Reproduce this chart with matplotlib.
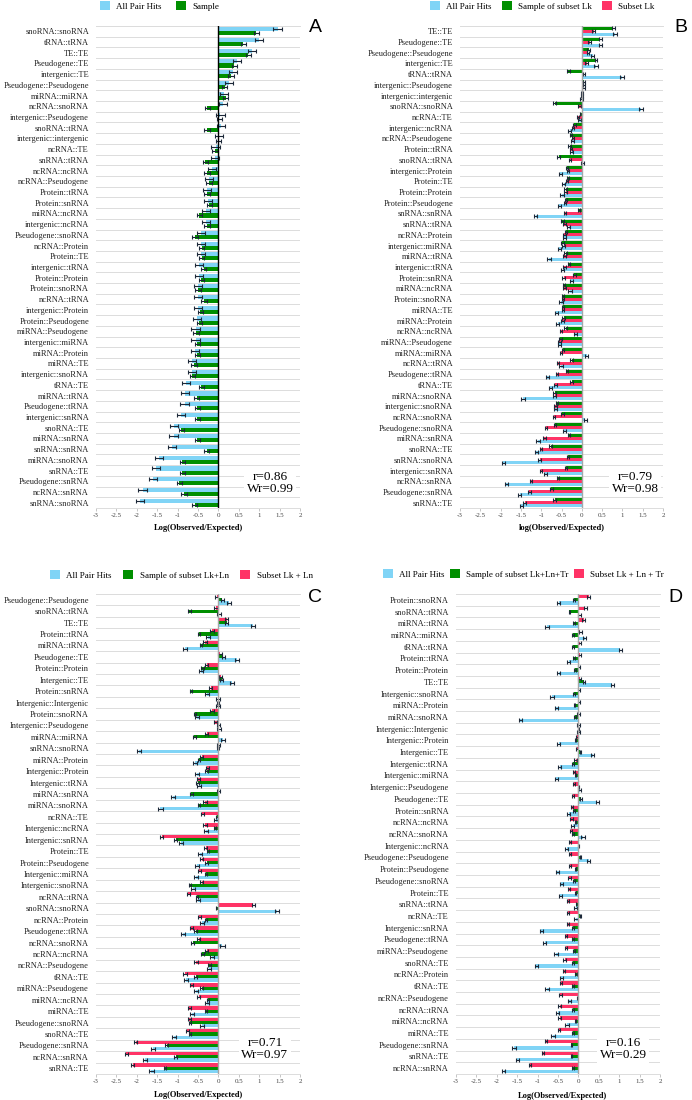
import numpy as np
import matplotlib
matplotlib.use("Agg")
import matplotlib.pyplot as plt
from matplotlib.patches import Patch

plt.rcParams['font.family'] = ['Liberation Serif', 'DejaVu Serif']

BLUE = '#80d4f6'
GREEN = '#008f00'
RED = '#ff3366'
ERR = '#1c2838'

# ---- panel A: all pair hits vs sample
cats_a = ["snoRNA::snoRNA", "tRNA::tRNA", "TE::TE", "Pseudogene::TE", "intergenic::TE",
          "Pseudogene::Pseudogene", "miRNA::miRNA", "ncRNA::snoRNA", "intergenic::Pseudogene",
          "snoRNA::tRNA", "intergenic::intergenic", "ncRNA::TE", "snRNA::tRNA", "ncRNA::ncRNA",
          "ncRNA::Pseudogene", "Protein::tRNA", "Protein::snRNA", "miRNA::ncRNA",
          "intergenic::ncRNA", "Pseudogene::snoRNA", "ncRNA::Protein", "Protein::TE",
          "intergenic::tRNA", "Protein::Protein", "Protein::snoRNA", "ncRNA::tRNA",
          "intergenic::Protein", "Protein::Pseudogene", "miRNA::Pseudogene", "intergenic::miRNA",
          "miRNA::Protein", "miRNA::TE", "intergenic::snoRNA", "tRNA::TE", "miRNA::tRNA",
          "Pseudogene::tRNA", "intergenic::snRNA", "snoRNA::TE", "miRNA::snRNA", "snRNA::snRNA",
          "miRNA::snoRNA", "snRNA::TE", "Pseudogene::snRNA", "ncRNA::snRNA", "snRNA::snoRNA"]
all_hits_a = [1.45, 1.0, 0.82, 0.46, 0.36, 0.27, 0.13, 0.11, 0.05, 0.07, 0.01, -0.07, -0.09,
              -0.15, -0.23, -0.27, -0.26, -0.30, -0.30, -0.42, -0.43, -0.42, -0.47, -0.48, -0.50,
              -0.50, -0.50, -0.53, -0.56, -0.56, -0.58, -0.64, -0.65, -0.80, -0.81, -0.83, -0.92,
              -1.09, -1.10, -1.13, -1.45, -1.53, -1.60, -1.86, -1.93]
sample_a = [0.93, 0.61, 0.73, 0.39, 0.31, 0.15, 0.18, -0.27, 0.02, -0.28, 0.0, -0.08, -0.32,
            -0.28, -0.23, -0.28, -0.22, -0.47, -0.28, -0.57, -0.41, -0.41, -0.36, -0.42, -0.50,
            -0.35, -0.44, -0.47, -0.55, -0.52, -0.52, -0.60, -0.64, -0.42, -0.53, -0.52, -0.52,
            -0.91, -0.52, -0.29, -0.88, -0.88, -0.96, -0.84, -0.58]
err_a = {"all": 0.10, "sample": 0.065}

# ---- panel B: subset Lk
cats_b = ["TE::TE", "Pseudogene::TE", "Pseudogene::Pseudogene", "intergenic::TE", "tRNA::tRNA",
          "intergenic::Pseudogene", "intergenic::intergenic", "snoRNA::snoRNA", "ncRNA::TE",
          "intergenic::ncRNA", "ncRNA::Pseudogene", "Protein::tRNA", "snoRNA::tRNA",
          "intergenic::Protein", "Protein::TE", "Protein::Protein", "Protein::Pseudogene",
          "snRNA::snRNA", "snRNA::tRNA", "ncRNA::Protein", "intergenic::miRNA", "miRNA::tRNA",
          "intergenic::tRNA", "Protein::snRNA", "miRNA::ncRNA", "Protein::snoRNA", "miRNA::TE",
          "miRNA::Protein", "ncRNA::ncRNA", "miRNA::Pseudogene", "miRNA::miRNA", "ncRNA::tRNA",
          "Pseudogene::tRNA", "tRNA::TE", "miRNA::snoRNA", "intergenic::snoRNA", "ncRNA::snoRNA",
          "Pseudogene::snoRNA", "miRNA::snRNA", "snoRNA::TE", "snRNA::snoRNA",
          "intergenic::snRNA", "ncRNA::snRNA", "Pseudogene::snRNA", "snRNA::TE"]
sample_b = [0.78, 0.46, 0.17, 0.35, -0.33, 0.06, 0.0, -0.67, -0.02, -0.18, -0.26, -0.30, -0.57,
            -0.36, -0.34, -0.40, -0.39, -0.07, -0.48, -0.39, -0.48, -0.40, -0.32, -0.18, -0.44,
            -0.47, -0.47, -0.45, -0.40, -0.53, -0.47, -0.25, -0.36, -0.25, -0.67, -0.61, -0.48,
            -0.66, -0.32, -0.77, -0.34, -0.39, -0.59, -0.75, -0.67]
subset_b = [0.29, 0.19, 0.15, 0.12, 0.06, 0.05, 0.0, -0.06, -0.09, -0.22, -0.22, -0.26, -0.29,
            -0.34, -0.37, -0.40, -0.41, -0.41, -0.43, -0.43, -0.45, -0.43, -0.43, -0.45, -0.43,
            -0.47, -0.47, -0.48, -0.51, -0.55, -0.51, -0.59, -0.61, -0.65, -0.67, -0.65, -0.69,
            -0.88, -0.92, -1.00, -1.04, -1.00, -1.25, -1.29, -1.41]
all_hits_b = [0.82, 0.46, 0.27, 0.35, 0.99, 0.04, 0.0, 1.46, -0.06, -0.30, -0.22, -0.25, 0.02,
              -0.53, -0.45, -0.49, -0.55, -1.14, -0.32, -0.43, -0.55, -0.81, -0.47, -0.26, -0.29,
              -0.51, -0.63, -0.59, -0.16, -0.55, 0.12, -0.51, -0.85, -0.78, -1.45, -0.65, 0.09,
              -0.43, -1.08, -1.12, -1.93, -0.90, -1.86, -1.53, -1.49]
err_b = {"all": 0.04, "sample": 0.03, "subset": 0.03}

# ---- panel C: subset Lk + Ln
cats_c = ["Pseudogene::Pseudogene", "snoRNA::tRNA", "TE::TE", "Protein::tRNA", "miRNA::tRNA",
          "Pseudogene::TE", "Protein::Protein", "Intergenic::TE", "Protein::snRNA",
          "Intergenic::Intergenic", "Protein::snoRNA", "Intergenic::Pseudogene", "miRNA::miRNA",
          "snRNA::snoRNA", "miRNA::Protein", "Intergenic::Protein", "Intergenic::tRNA",
          "miRNA::snRNA", "miRNA::snoRNA", "ncRNA::TE", "Intergenic::ncRNA", "Intergenic::snRNA",
          "Protein::TE", "Protein::Pseudogene", "Intergenic::miRNA", "Intergenic::snoRNA",
          "ncRNA::tRNA", "snoRNA::snoRNA", "ncRNA::Protein", "Pseudogene::tRNA", "ncRNA::snoRNA",
          "ncRNA::ncRNA", "ncRNA::Pseudogene", "tRNA::TE", "miRNA::Pseudogene", "miRNA::ncRNA",
          "miRNA::TE", "Pseudogene::snoRNA", "snoRNA::TE", "Pseudogene::snRNA", "ncRNA::snRNA",
          "snRNA::TE"]
subset_c = [-0.04, -0.06, 0.20, -0.16, -0.33, 0.04, -0.29, 0.06, -0.19, -0.01, -0.16, -0.08,
            -0.29, 0.0, -0.41, -0.27, -0.49, 0.0, -0.33, -0.39, -0.33, -1.39, -0.31, -0.41,
            -0.47, -0.41, -0.74, 0.86, -0.47, -0.66, -0.48, -0.29, -0.55, -0.82, -0.66, -0.48,
            -0.71, -0.71, -0.76, -2.03, -2.26, -2.10]
sample_c = [0.10, -0.71, 0.20, -0.47, -0.43, 0.12, -0.39, 0.08, -0.67, -0.01, -0.57, 0.0, -0.59,
            -0.01, -0.48, -0.29, -0.51, -0.66, -0.47, -0.04, -0.08, -1.05, -0.25, -0.29, -0.31,
            -0.70, -0.53, -0.04, -0.30, -0.56, -0.63, -0.39, -0.22, -0.56, -0.41, -0.25, -0.31,
            -0.70, -0.70, -1.27, -1.05, -1.31]
all_hits_c = [0.25, 0.02, 0.84, -0.25, -0.82, 0.45, -0.43, 0.34, -0.27, -0.01, -0.53, 0.02,
              0.12, -1.94, -0.57, -0.52, -0.48, -1.11, -1.42, -0.06, -0.30, -0.92, -0.45, -0.53,
              -0.56, -0.63, -0.51, 1.43, -0.41, -0.86, 0.10, -0.16, -0.23, -0.79, -0.56, -0.29,
              -0.64, -0.41, -1.08, -1.60, -1.80, -1.64]
err_c = {"all": 0.05, "sample": 0.03, "subset": 0.04}

# ---- panel D: subset Lk + Ln + Tr
cats_d = ["Protein::snoRNA", "snoRNA::tRNA", "miRNA::tRNA", "miRNA::miRNA", "tRNA::tRNA",
          "Protein::tRNA", "Protein::Protein", "TE::TE", "Intergenic::snoRNA", "miRNA::Protein",
          "miRNA::snoRNA", "Intergenic::Intergenic", "Intergenic::Protein", "Intergenic::TE",
          "Intergenic::tRNA", "Intergenic::miRNA", "Intergenic::Pseudogene", "Pseudogene::TE",
          "Protein::snRNA", "ncRNA::ncRNA", "ncRNA::snoRNA", "Intergenic::ncRNA",
          "Pseudogene::Pseudogene", "Protein::Pseudogene", "Pseudogene::snoRNA", "Protein::TE",
          "snRNA::tRNA", "ncRNA::TE", "Intergenic::snRNA", "Pseudogene::tRNA",
          "miRNA::Pseudogene", "snoRNA::TE", "ncRNA::Protein", "tRNA::TE", "ncRNA::Pseudogene",
          "ncRNA::tRNA", "miRNA::ncRNA", "miRNA::TE", "Pseudogene::snRNA", "snRNA::TE",
          "ncRNA::snRNA"]
subset_d = [0.25, 0.17, 0.13, 0.05, 0.03, 0.03, 0.02, 0.03, 0.02, 0.02, 0.0, 0.0, -0.03, -0.03,
            -0.07, -0.11, -0.11, -0.13, -0.16, -0.17, -0.18, -0.20, -0.20, -0.21, -0.22, -0.23,
            -0.25, -0.25, -0.25, -0.30, -0.30, -0.34, -0.35, -0.43, -0.44, -0.46, -0.46, -0.47,
            -0.79, -0.87, -1.18]
sample_d = [-0.11, -0.22, -0.11, -0.14, -0.13, -0.11, -0.09, 0.13, -0.11, -0.10, -0.09, 0.0,
            -0.07, 0.05, -0.13, -0.07, 0.0, 0.07, -0.11, -0.07, -0.13, 0.0, 0.05, -0.07, -0.11,
            -0.07, -0.03, 0.05, -0.14, -0.14, -0.11, -0.14, -0.06, -0.14, -0.02, -0.14, -0.07,
            -0.13, -0.17, -0.17, -0.13]
all_hits_d = [-0.48, 0.02, -0.77, 0.15, 1.03, -0.24, -0.48, 0.83, -0.65, -0.54, -1.42, 0.0,
              -0.48, 0.35, -0.46, -0.54, 0.03, 0.46, -0.24, -0.14, 0.11, -0.29, 0.25, -0.52,
              -0.42, -0.44, -0.07, -0.06, -0.91, -0.83, -0.55, -1.03, -0.42, -0.77, -0.22, -0.51,
              -0.28, -0.62, -1.58, -1.50, -1.83]
err_d = {"all": 0.04, "sample": 0.02, "subset": 0.03}

stats = {"A": ("0.86", "0.99"), "B": ("0.79", "0.98"), "C": ("0.71", "0.97"), "D": ("0.16", "0.29")}

xticks = np.arange(-3, 2.01, 0.5)
xtick_labels = ["-3", "-2.5", "-2", "-1.5", "-1", "-0.5", "0", "0.5", "1", "1.5", "2"]


def draw_panel(ax, cats, series, zero_color, stat, stat_x, total):
    # series given top-to-bottom within each category row
    n = len(cats)
    y = np.arange(n)
    m = len(series)
    h = total / m
    for k, (vals, err, color) in enumerate(series):
        off = (k - (m - 1) / 2) * h
        ax.barh(y + off, vals, height=h, color=color, zorder=2)
        ax.errorbar(vals, y + off, xerr=err, fmt='none', ecolor=ERR, elinewidth=0.8,
                    capsize=1.2, capthick=0.8, zorder=3)
    ax.axvline(0, color=zero_color, lw=1.0, zorder=4)
    ax.set_xlim(-3, 2)
    ax.set_ylim(n - 0.5, -0.5)
    ax.set_yticks(y)
    ax.set_yticklabels(cats, fontsize=6.0, color='#222222')
    ax.set_yticks(np.arange(n + 1) - 0.5, minor=True)
    ax.grid(True, which='minor', axis='y', color='#dcdcdc', lw=0.7, zorder=0)
    ax.tick_params(axis='y', which='both', length=0, pad=5)
    ax.set_xticks(xticks)
    ax.set_xticklabels(xtick_labels, fontsize=5, color='#444444')
    ax.tick_params(axis='x', length=2, width=0.6, color='#bbbbbb', pad=1.5)
    for s in ['left', 'right']:
        ax.spines[s].set_visible(False)
    for s in ['top', 'bottom']:
        ax.spines[s].set_color('#dcdcdc')
        ax.spines[s].set_linewidth(0.7)
    ax.text(stat_x, 0.052, f"r={stat[0]}\nWr={stat[1]}", transform=ax.transAxes,
            ha='center', va='center', fontsize=9.5, linespacing=1.05, zorder=5,
            bbox=dict(facecolor='white', edgecolor='none', pad=1.5))


W, H = 692, 1100
fig = plt.figure(figsize=(W / 100, H / 100), dpi=100)

ax_a = fig.add_axes([96 / W, 1 - 508 / H, 204 / W, 482 / H])
ax_b = fig.add_axes([460 / W, 1 - 508 / H, 203 / W, 482 / H])
ax_c = fig.add_axes([96 / W, 1 - 1074 / H, 204 / W, 480 / H])
ax_d = fig.add_axes([456 / W, 1 - 1074 / H, 204 / W, 480 / H])

draw_panel(ax_a, cats_a, [(all_hits_a, err_a["all"], BLUE), (sample_a, err_a["sample"], GREEN)],
           'black', stats["A"], 0.853, 0.76)
draw_panel(ax_b, cats_b, [(sample_b, err_b["sample"], GREEN), (subset_b, err_b["subset"], RED),
                          (all_hits_b, err_b["all"], BLUE)],
           '#a6a6a6', stats["B"], 0.862, 0.84)
draw_panel(ax_c, cats_c, [(subset_c, err_c["subset"], RED), (sample_c, err_c["sample"], GREEN),
                          (all_hits_c, err_c["all"], BLUE)],
           '#a6a6a6', stats["C"], 0.828, 0.84)
draw_panel(ax_d, cats_d, [(subset_d, err_d["subset"], RED), (sample_d, err_d["sample"], GREEN),
                          (all_hits_d, err_d["all"], BLUE)],
           '#a6a6a6', stats["D"], 0.819, 0.84)


def add_legend(labels, colors, x, y, colsp):
    handles = [Patch(facecolor=c, edgecolor='none') for c in colors]
    fig.legend(handles, labels, loc='center left', bbox_to_anchor=(x / W, 1 - y / H),
               ncol=len(labels), frameon=False, fontsize=6.5, handlelength=1.1,
               handleheight=1.0, handletextpad=0.7, columnspacing=colsp,
               borderaxespad=0, borderpad=0)


add_legend(["All Pair Hits", "Sample"], [BLUE, GREEN], 100, 6, 1.6)
add_legend(["All Pair Hits", "Sample of subset Lk", "Subset Lk"], [BLUE, GREEN, RED], 430, 6, 1.1)
add_legend(["All Pair Hits", "Sample of subset Lk+Ln", "Subset Lk + Ln"], [BLUE, GREEN, RED], 50, 575, 1.3)
add_legend(["All Pair Hits", "Sample of subset Lk+Ln+Tr", "Subset Lk + Ln + Tr"], [BLUE, GREEN, RED], 383, 574, 0.6)

for letter, x, y in [("A", 315, 27), ("B", 681, 28), ("C", 315, 597), ("D", 675, 597)]:
    fig.text(x / W, 1 - y / H, letter, ha='center', va='center', fontsize=14,
             family='Liberation Sans')

for text, x, y in [("Log(Observed/Expected)", 198, 528), ("log(Observed/Expected)", 562, 528),
                   ("Log(Observed/Expected)", 198, 1095), ("Log(Observed/Expected)", 562, 1096)]:
    fig.text(x / W, 1 - y / H, text, ha='center', va='center', fontsize=6, fontweight='bold')

fig.savefig("out.png", dpi=100)
